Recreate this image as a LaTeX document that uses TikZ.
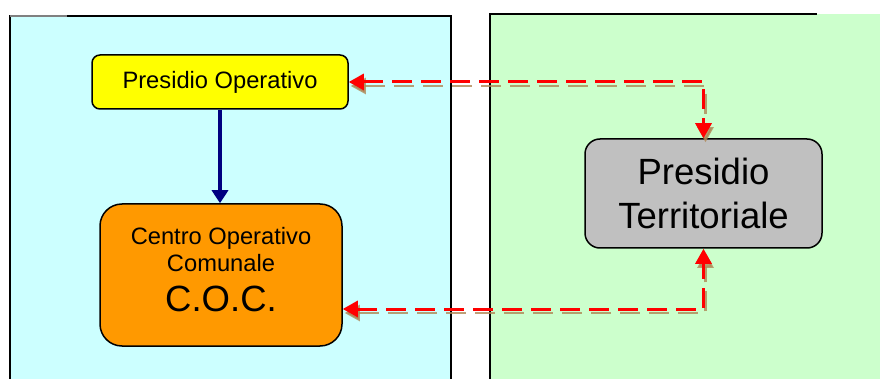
\documentclass[tikz,border=0pt]{standalone}
\usepackage{fontspec}
\setmainfont{Liberation Sans}
\usetikzlibrary{arrows.meta}
\definecolor{panelcyan}{HTML}{CCFFFF}
\definecolor{panelgreen}{HTML}{CCFFCC}
\definecolor{boxyellow}{HTML}{FFFF00}
\definecolor{boxorange}{HTML}{FF9900}
\definecolor{boxgray}{HTML}{C0C0C0}
\definecolor{arrowblue}{HTML}{000080}
\definecolor{arrowred}{HTML}{FF0000}
\definecolor{shadowtan}{RGB}{175,135,85}
\newcommand{\smallfont}{\fontsize{23.7pt}{27pt}\selectfont}
\newcommand{\bigfont}{\fontsize{36.5pt}{44pt}\selectfont}
\begin{document}
\begin{tikzpicture}[x=1pt,y=-1pt,
  panelline/.style={draw=black,line width=1.5pt},
  boxnode/.style={draw=black,line width=1.5pt,inner sep=0pt,align=center,text=black},
  bluearrow/.style={draw=arrowblue,line width=4.5pt,-{Triangle[width=16pt,length=13pt]}},
  reddash/.style={draw=arrowred,line width=3pt,dash pattern=on 20pt off 9pt,
    {Triangle[width=16pt,length=15pt]}-{Triangle[width=16pt,length=15pt]}},
  shadowdash/.style={draw=shadowtan,opacity=0.8,line width=2.2pt,dash pattern=on 20pt off 9pt,
    {Triangle[width=16pt,length=15pt]}-{Triangle[width=16pt,length=15pt]}}
]
\clip (0,0) rectangle (880,379);
\fill[white] (0,0) rectangle (880,379);
% panels
\fill[panelcyan] (10,16) rectangle (451,400);
\fill[panelgreen] (490,14) rectangle (900,400);
\draw[panelline] (10,400) -- (10,16) -- (451,16) -- (451,400);
\draw[draw=gray,line width=1.5pt] (10,16) -- (67,16);
\draw[panelline] (490,400) -- (490,14) -- (817,14);
% nodes
\node[boxnode,fill=boxyellow,minimum width=256pt,minimum height=54pt,rounded corners=8pt,font=\smallfont]
  (po) at (220,82) {Presidio Operativo};
\node[boxnode,fill=boxorange,minimum width=242pt,minimum height=142pt,rounded corners=22pt,font=\smallfont,text depth=12pt]
  (coc) at (221,275) {Centro Operativo\\Comunale\\[13pt]{\bigfont C.O.C.}};
\node[boxnode,fill=boxgray,minimum width=237pt,minimum height=109pt,rounded corners=15pt,font=\bigfont]
  (pt) at (703.5,193.5) {Presidio\\Territoriale};
\coordinate (bcorner) at (703.5,309);
% connectors
\draw[bluearrow] (po.south) -- (po.south |- coc.north);
\draw[shadowdash] ([shift={(2,4)}]po.east) -| ([shift={(2,4)}]pt.north);
\draw[shadowdash] ([shift={(2,4)}]coc.east |- bcorner) -| ([shift={(2,4)}]pt.south);
\draw[reddash] (po.east) -| (pt.north);
\draw[reddash] (coc.east |- bcorner) -| (pt.south);
\end{tikzpicture}
\end{document}
